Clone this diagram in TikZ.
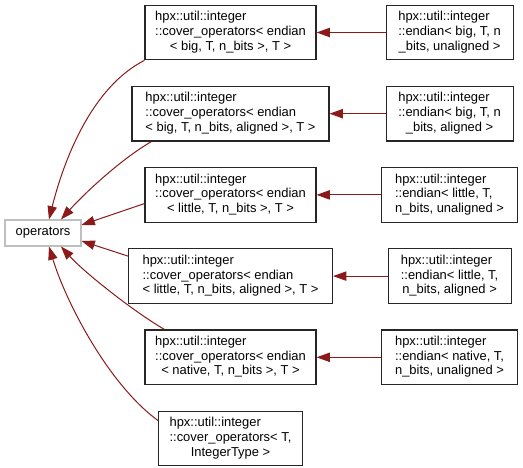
\documentclass[tikz,border=0pt]{standalone}
\usepackage{fontspec}
\setmainfont{Liberation Sans}
\usepackage{xcolor}
\usetikzlibrary{arrows.meta, positioning}

\definecolor{edgered}{HTML}{8B1A1A}
\definecolor{boxgray}{HTML}{BFBFBF}

% three-line label: first lines left, last line centred
\newcommand{\dotlabel}[3]{\begin{tabular}{@{}l@{}}#1\\#2\\\multicolumn{1}{@{}c@{}}{#3}\end{tabular}}

\begin{document}
\begin{tikzpicture}[
  x=0.75pt, y=0.75pt,
  node distance=19.1pt,
  box/.style={rectangle, draw=black!85, line width=0.8pt, minimum height=41pt, inner sep=2pt, align=center, font=\fontsize{9.7}{11}\selectfont},
  opsbox/.style={box, draw=boxgray, minimum width=57pt, minimum height=19.5pt},
  arrow/.style={-{Triangle[length=10pt, width=7pt]}, draw=edgered, line width=0.75pt}
]
\useasboundingbox (0,0) rectangle (523,467);

% base class
\node[opsbox] (ops) at (43,234) {operators};

% cover_operators column
\node[box, minimum width=128.25pt] (c1) at (230.5,434.5) {\dotlabel{hpx::util::integer}{::cover\_operators< endian}{< big, T, n\_bits >, T >}};
\node[box, minimum width=147.75pt, below=of c1] (c2) {\dotlabel{hpx::util::integer}{::cover\_operators< endian}{< big, T, n\_bits, aligned >, T >}};
\node[box, minimum width=128.25pt, below=of c2] (c3) {\dotlabel{hpx::util::integer}{::cover\_operators< endian}{< little, T, n\_bits >, T >}};
\node[box, minimum width=153pt, below=of c3] (c4) {\dotlabel{hpx::util::integer}{::cover\_operators< endian}{< little, T, n\_bits, aligned >, T >}};
\node[box, minimum width=128.25pt, below=of c4] (c5) {\dotlabel{hpx::util::integer}{::cover\_operators< endian}{< native, T, n\_bits >, T >}};
\node[box, minimum width=108pt, below=of c5] (c6) {\dotlabel{hpx::util::integer}{::cover\_operators< T,}{IntegerType >}};

% endian column
\node[box, minimum width=95.25pt, right=51.75pt of c1] (e1) {\dotlabel{hpx::util::integer}{::endian< big, T, n}{\_bits, unaligned >}};
\node[box, minimum width=95.25pt] (e2) at (c2 -| e1) {\dotlabel{hpx::util::integer}{::endian< big, T, n}{\_bits, aligned >}};
\node[box, minimum width=102pt] (e3) at (c3 -| e1) {\dotlabel{hpx::util::integer}{::endian< little, T,}{n\_bits, unaligned >}};
\node[box, minimum width=92.25pt] (e4) at (c4 -| e1) {\dotlabel{hpx::util::integer}{::endian< little, T,}{n\_bits, aligned >}};
\node[box, minimum width=102pt] (e5) at (c5 -| e1) {\dotlabel{hpx::util::integer}{::endian< native, T,}{n\_bits, unaligned >}};

% endian -> cover_operators
\draw[arrow] (e1) -- (c1);
\draw[arrow] (e2) -- (c2);
\draw[arrow] (e3) -- (c3);
\draw[arrow] (e4) -- (c4);
\draw[arrow] (e5) -- (c5);

% cover_operators -> operators
\draw[arrow] (c1.south west) .. controls +(207:60) and +(76:60) .. ([xshift=4.5pt]ops.north);
\draw[arrow] ([xshift=15pt]c2.south west) .. controls +(210:35) and +(48:35) .. ([xshift=13.5pt]ops.north);
\draw[arrow] ([yshift=-6.5pt]c3.west) -- ([yshift=6pt]ops.east);
\draw[arrow] ([yshift=15pt]c4.west) -- ([yshift=-6pt]ops.east);
\draw[arrow] ([xshift=15pt]c5.north west) .. controls +(150:35) and +(312:35) .. ([xshift=13.5pt]ops.south);
\draw[arrow] ([yshift=13.5pt]c6.west) .. controls +(144:60) and +(287:60) .. ([xshift=4.5pt]ops.south);

\end{tikzpicture}
\end{document}
